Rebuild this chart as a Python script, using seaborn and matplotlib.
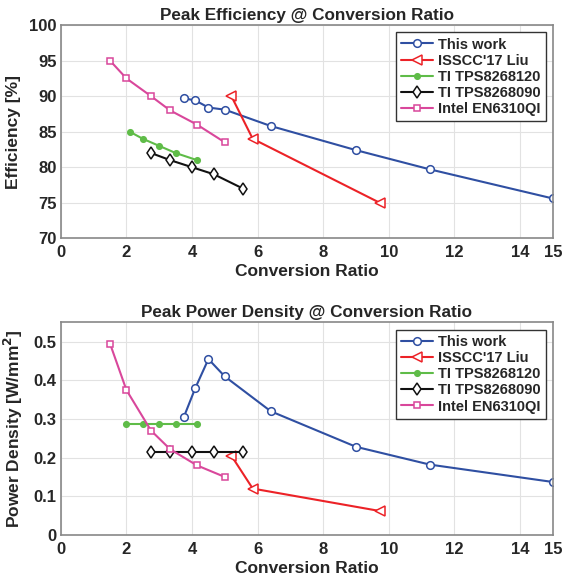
import matplotlib
matplotlib.use("Agg")
import matplotlib.pyplot as plt
import seaborn as sns

# --- data ---
series_names = ["This work", "ISSCC'17 Liu", "TI TPS8268120", "TI TPS8268090", "Intel EN6310QI"]

this_work_x = [3.75, 4.1, 4.5, 5.0, 6.4, 9.0, 11.25, 15.0]
this_work_eff = [89.7, 89.4, 88.4, 88.1, 85.8, 82.4, 79.7, 75.6]
this_work_pd = [0.305, 0.38, 0.455, 0.41, 0.32, 0.228, 0.182, 0.137]

liu_x = [5.2, 5.85, 9.72]
liu_eff = [90.0, 84.0, 75.0]
liu_pd = [0.205, 0.12, 0.062]

ti120_x_eff = [2.1, 2.5, 3.0, 3.5, 4.15]
ti120_eff = [85.0, 84.0, 83.0, 82.0, 81.0]
ti120_x_pd = [2.0, 2.5, 3.0, 3.5, 4.15]
ti120_pd = [0.288, 0.288, 0.288, 0.288, 0.288]

ti090_x = [2.75, 3.33, 4.0, 4.67, 5.55]
ti090_eff = [82.0, 81.0, 80.0, 79.0, 77.0]
ti090_pd = [0.215, 0.215, 0.215, 0.215, 0.215]

intel_x = [1.5, 2.0, 2.75, 3.33, 4.15, 5.0]
intel_eff = [95.0, 92.5, 90.0, 88.0, 86.0, 83.5]
intel_pd = [0.495, 0.375, 0.27, 0.222, 0.18, 0.15]

x_ticks = [0, 2, 4, 6, 8, 10, 12, 14, 15]
eff_ticks = [70, 75, 80, 85, 90, 95, 100]
pd_ticks = [0, 0.1, 0.2, 0.3, 0.4, 0.5]

# --- styles ---
colors = ["#2f4fa2", "#ec2227", "#5fbc48", "#111111", "#d9479b"]
markers = ["o", "<", ".", "d", "s"]
msizes = [5.5, 6.5, 8, 6, 5]

sns.set_style("whitegrid")
plt.rcParams["font.family"] = ["Liberation Sans", "DejaVu Sans"]
plt.rcParams["font.weight"] = "bold"

fig = plt.figure(figsize=(5.63, 5.84), dpi=100)
ax1 = fig.add_axes([0.108, 0.592, 0.874, 0.365])
ax2 = fig.add_axes([0.108, 0.084, 0.874, 0.364])


def draw(ax, xs, ys):
    for i, (x, y) in enumerate(zip(xs, ys)):
        face = colors[i] if markers[i] == "." else "white"
        sns.lineplot(x=x, y=y, ax=ax, sort=False, color=colors[i], marker=markers[i],
                     markersize=msizes[i], markerfacecolor=face, markeredgecolor=colors[i],
                     markeredgewidth=1.1, linewidth=1.5, label=series_names[i])


draw(ax1, [this_work_x, liu_x, ti120_x_eff, ti090_x, intel_x],
     [this_work_eff, liu_eff, ti120_eff, ti090_eff, intel_eff])
draw(ax2, [this_work_x, liu_x, ti120_x_pd, ti090_x, intel_x],
     [this_work_pd, liu_pd, ti120_pd, ti090_pd, intel_pd])

for ax in (ax1, ax2):
    ax.set_xlim(0, 15)
    ax.set_xticks(x_ticks)
    ax.set_xticklabels([str(t) for t in x_ticks], fontsize=12, fontweight="bold")
    ax.set_xlabel("Conversion Ratio", fontsize=12.5, fontweight="bold", labelpad=3)
    ax.grid(True, color="#e2e2e2", linewidth=0.8)
    ax.tick_params(direction="in", length=4, color="#888888")
    ax.tick_params(axis="y", pad=3)
    ax.tick_params(axis="x", pad=5)
    for s in ax.spines.values():
        s.set_color("#888888")
        s.set_linewidth(1.2)
    leg = ax.legend(loc="upper right", fontsize=10.5, frameon=True, fancybox=False,
                    handlelength=2.2, handletextpad=0.3, borderpad=0.35, labelspacing=0.15)
    leg.get_frame().set_edgecolor("#333333")
    leg.get_frame().set_linewidth(1.0)
    leg.get_frame().set_alpha(1)
    for t in leg.get_texts():
        t.set_fontweight("bold")

ax1.set_ylim(70, 100)
ax1.set_yticks(eff_ticks)
ax1.set_yticklabels([str(t) for t in eff_ticks], fontsize=12, fontweight="bold")
ax1.set_ylabel("Efficiency [%]", fontsize=12.5, fontweight="bold", labelpad=6)
ax1.set_title("Peak Efficiency @ Conversion Ratio", fontsize=12.3, fontweight="bold", pad=4)

ax2.set_ylim(0, 0.55)
ax2.set_yticks(pd_ticks)
ax2.set_yticklabels(["0", "0.1", "0.2", "0.3", "0.4", "0.5"], fontsize=12, fontweight="bold")
ax2.set_ylabel("Power Density [W/mm$^\\mathbf{2}$]", fontsize=12.5, fontweight="bold", labelpad=6)
ax2.set_title("Peak Power Density @ Conversion Ratio", fontsize=12.3, fontweight="bold", pad=4)

fig.savefig("out.png", dpi=100)
